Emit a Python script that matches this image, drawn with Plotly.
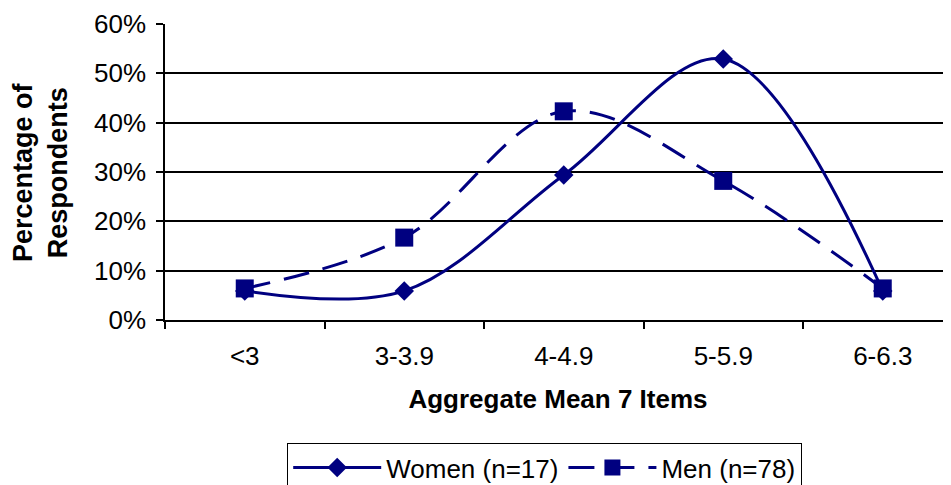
import plotly.graph_objects as go

categories = ["<3", "3-3.9", "4-4.9", "5-5.9", "6-6.3"]
women = [5.9, 5.9, 29.4, 52.9, 5.9]
men = [6.4, 16.7, 42.3, 28.2, 6.4]
y_ticks = [0, 10, 20, 30, 40, 50, 60]

NAVY = "#000080"
FONT = "Liberation Sans, Arial, sans-serif"

fig = go.Figure()
fig.add_trace(go.Scatter(
    x=categories, y=women, name="Women (n=17)", mode="lines+markers",
    line=dict(color=NAVY, width=3, shape="spline", smoothing=1.0),
    marker=dict(symbol="diamond", size=15, color=NAVY),
))
fig.add_trace(go.Scatter(
    x=categories, y=men, name="Men (n=78)", mode="lines+markers",
    line=dict(color=NAVY, width=3, shape="spline", smoothing=1.0, dash="26px,14px"),
    marker=dict(symbol="square", size=18, color=NAVY),
))

# page body has an 8px margin, so the figure is offset by 8px
OFF = 8
W, H = 951 - OFF, 485 - OFF
L = 165 - OFF
T = 24 - OFF
B = H - (320 - OFF)
pw = W - L
fig.update_layout(
    width=W, height=H,
    margin=dict(l=L, r=0, t=T, b=B, pad=0),
    paper_bgcolor="white", plot_bgcolor="white",
    font=dict(family=FONT, color="black", size=26),
    showlegend=True,
    legend=dict(
        orientation="h",
        xref="container", yref="container",
        x=(287 - OFF) / W, xanchor="left",
        y=1 - (443 - OFF) / H, yanchor="top",
        bordercolor="black", borderwidth=1.2,
        font=dict(size=26, family=FONT, color="black"),
        itemwidth=88, tracegroupgap=0,
    ),
    annotations=[dict(
        text="<b>Percentage of<br>Respondents</b>", textangle=-90,
        xref="paper", yref="paper", x=(40 - 165) / pw, y=0.5,
        xanchor="center", yanchor="middle", showarrow=False,
        font=dict(size=27, family=FONT, color="black"),
    )],
)
fig.update_xaxes(
    type="category", categoryorder="array", categoryarray=categories,
    range=[-0.5, -0.5 + pw / 159.5],
    showgrid=False, showline=True, linecolor="black", linewidth=1.5,
    ticks="outside", tickson="boundaries", ticklen=7, tickcolor="black", tickwidth=1.5,
    tickfont=dict(size=26, family=FONT, color="black"),
    ticklabelstandoff=12,
    title=dict(text="<b>Aggregate Mean 7 Items</b>", standoff=20,
               font=dict(size=26, family=FONT, color="black")),
    zeroline=False,
)
fig.update_yaxes(
    range=[0, 60], tickvals=y_ticks, ticktext=[f"{v}%" for v in y_ticks],
    showgrid=True, gridcolor="black", gridwidth=1.5,
    showline=True, linecolor="black", linewidth=1.5,
    ticks="outside", ticklen=7, tickcolor="black", tickwidth=1.5,
    tickfont=dict(size=26, family=FONT, color="black"),
    ticklabelstandoff=5,
    zeroline=False,
)
fig.write_html("out.html")
